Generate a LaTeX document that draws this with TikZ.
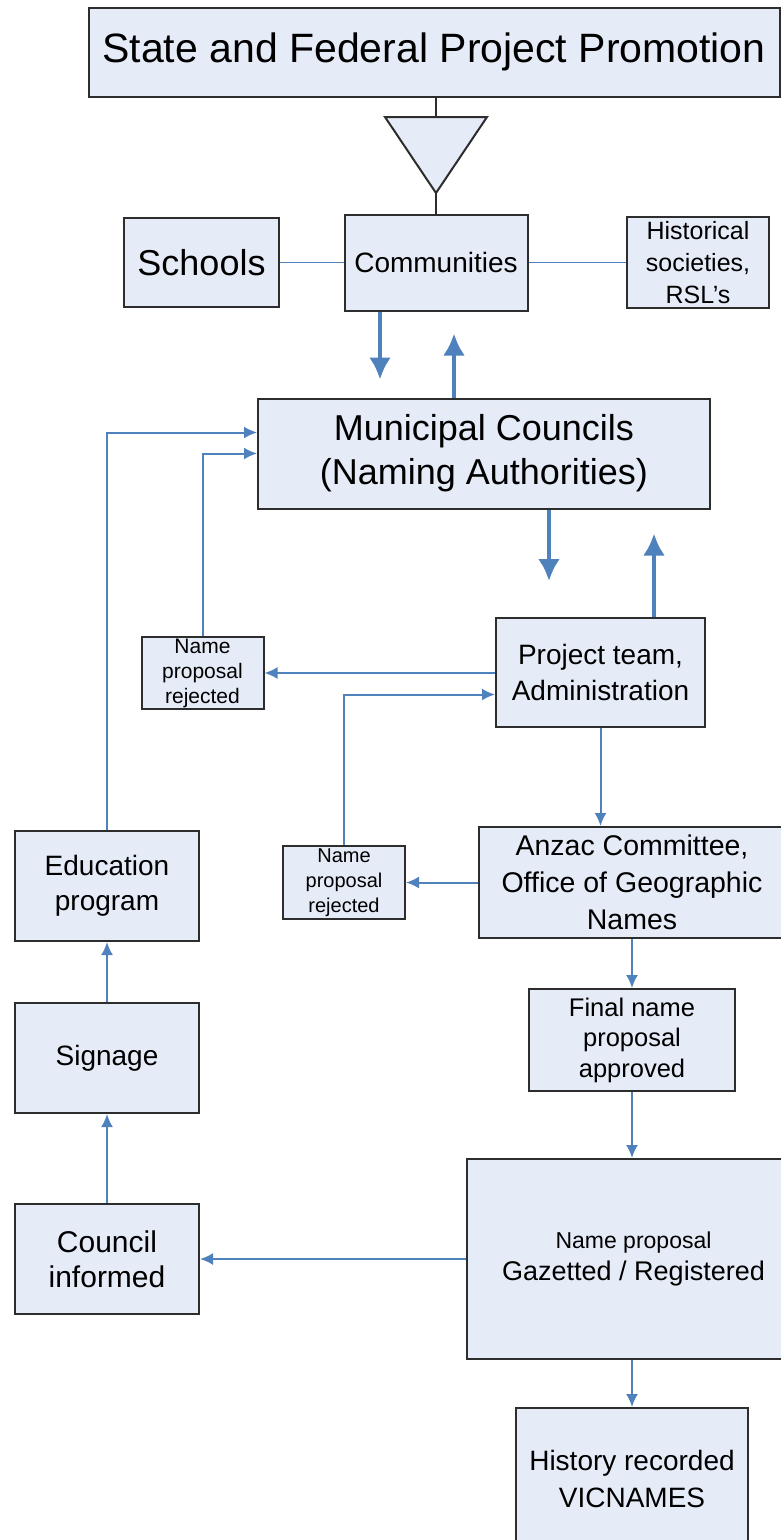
\documentclass[tikz,border=0pt]{standalone}
\usepackage{fontspec}
\setmainfont{Liberation Sans}
\usetikzlibrary{arrows.meta,positioning,calc}
\definecolor{boxfill}{RGB}{230,236,247}
\definecolor{boxline}{RGB}{45,45,45}
\definecolor{flowblue}{RGB}{79,129,189}
\newcommand{\txtsize}[2]{\fontsize{#1}{#2}\selectfont}
\tikzset{
    block/.style={rectangle, draw=boxline, fill=boxfill, line width=2pt, align=center, inner sep=0pt},
    link/.style={draw=flowblue, line width=2pt, -{Latex[length=13pt,width=12pt]}},
    bigflow/.style={draw=flowblue, line width=4.5pt, -{Latex[length=22pt,width=22pt]}},
    tie/.style={draw=flowblue, line width=1.8pt},
    stem/.style={draw=boxline, line width=2pt}
}
\begin{document}
\begin{tikzpicture}[x=1pt,y=-1pt]
    \clip (0,0) rectangle (781,1540);
    % Promotion and communities
    \node [block, minimum width=691pt, minimum height=89pt, font=\txtsize{41}{49}] (promo) at (434,52) {State and Federal Project Promotion};
    \coordinate (tritop) at (436,117);
    \coordinate (triapex) at (436,193);
    \draw [stem, fill=boxfill] (385,117) -- (487,117) -- (triapex) -- cycle;
    \node [block, minimum width=183pt, minimum height=96pt, font=\txtsize{28}{34}] (comm) at (436,262.5) {Communities};
    \node [block, minimum width=155pt, minimum height=89pt, font=\txtsize{36}{43}] (schools) at (201.5,262.5) {Schools};
    \node [block, minimum width=142pt, minimum height=91pt, font=\txtsize{25}{32}] (hist) at (698,262.5) {Historical\\societies,\\RSL’s};
    
    % Councils and project team
    \node [block, minimum width=452pt, minimum height=110pt, font=\txtsize{36}{44}] (muni) at (484,453.5) {Municipal Councils\\(Naming Authorities)};
    \node [block, minimum width=209pt, minimum height=109pt, font=\txtsize{28}{36}] (proj) at (600.5,672.5) {Project team,\\Administration};
    \node [block, minimum width=122pt, minimum height=72pt, font=\txtsize{21}{25}] (rejA) at (202.5,673) {Name\\proposal\\rejected};
    
    % Committee
    \node [block, minimum width=306pt, minimum height=111pt, font=\txtsize{28.5}{37}] (anzac) at (632,882.5) {Anzac Committee,\\Office of Geographic\\Names};
    \node [block, minimum width=122pt, minimum height=73pt, font=\txtsize{20}{25}] (rejB) at (344,882.5) {Name\\proposal\\rejected};
    \node [block, minimum width=206pt, minimum height=102pt, font=\txtsize{25.5}{30.5}] (final) at (632,1040) {Final name\\proposal\\approved};
    \node [block, minimum width=333pt, minimum height=200pt, font=\txtsize{27}{32}] (gaz) at (633.5,1259) {{\txtsize{23}{32}Name proposal}\\Gazetted / Registered};
    \node [block, minimum width=232pt, minimum height=142pt, font=\txtsize{28}{37}] (history) at (632,1479) {History recorded\\VICNAMES};
    
    % Council side
    \node [block, minimum width=184pt, minimum height=110pt, font=\txtsize{30}{35}] (council) at (107,1259) {Council\\informed};
    \node [block, minimum width=184pt, minimum height=110pt, font=\txtsize{28}{34}] (signage) at (107,1058) {Signage};
    \node [block, minimum width=184pt, minimum height=110pt, font=\txtsize{28}{35}] (edu) at (107,886) {Education\\program};
    
    % Thick arrow feet
    \coordinate (commdown) at ($(comm.south)+(-56,0)$);
    \coordinate (muniup) at ($(muni.north)+(-30,0)$);
    \coordinate (munidown) at ($(muni.south)+(65,0)$);
    \coordinate (projup) at ($(proj.north)+(53.5,0)$);
    
    % Connections
    \draw [stem] (promo.south -| tritop) -- (tritop);
    \draw [stem] (triapex) -- (comm);
    \draw [tie] (schools) -- (comm);
    \draw [tie] (comm) -- (hist);
    \draw [bigflow, shorten >=18pt] (commdown) -- (commdown |- muni.north);
    \draw [bigflow, shorten >=22pt] (muniup) -- (muniup |- comm.south);
    \draw [bigflow, shorten >=36pt] (munidown) -- (munidown |- proj.north);
    \draw [bigflow, shorten >=24pt] (projup) -- (projup |- muni.south);
    \draw [link] (proj.west |- rejA.east) -- (rejA.east);
    \draw [link] (rejA.north) |- (muni.west);
    \draw [link] (edu.north) |- ($(muni.west)+(0,-21)$);
    \draw [link] (proj.south) -- (proj.south |- anzac.north);
    \draw [link] (rejB.north) |- ($(proj.west)+(0,22)$);
    \draw [link] (anzac.west) -- (rejB.east);
    \draw [link] (anzac.south) -- (final.north);
    \draw [link] (final.south) -- (final.south |- gaz.north);
    \draw [link] (gaz.west) -- (council.east);
    \draw [link] (council.north) -- (signage.south);
    \draw [link] (signage.north) -- (edu.south);
    \draw [link] (history.north |- gaz.south) -- (history.north);
\end{tikzpicture}
\end{document}
